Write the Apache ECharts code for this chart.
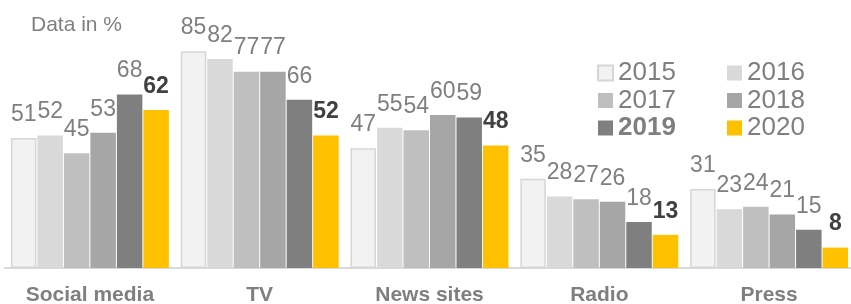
<!DOCTYPE html>
<html><head><meta charset="utf-8">
<script src="https://cdn.jsdelivr.net/npm/echarts@6/dist/echarts.min.js"></script>
<style>html,body{margin:0;padding:0;background:#fff}#c{width:851px;height:304px}</style>
</head><body><div id="c"></div>
<script>
const categories = ['Social media', 'TV', 'News sites', 'Radio', 'Press'];
const years = ['2015', '2016', '2017', '2018', '2019', '2020'];
const v2015 = [51, 85, 47, 35, 31];
const v2016 = [52, 82, 55, 28, 23];
const v2017 = [45, 77, 54, 27, 24];
const v2018 = [53, 77, 60, 26, 21];
const v2019 = [68, 66, 59, 18, 15];
const v2020 = [62, 52, 48, 13, 8];
const values = [v2015, v2016, v2017, v2018, v2019, v2020];
const colors = ['#f2f2f2', '#d9d9d9', '#bfbfbf', '#a6a6a6', '#7f7f7f', '#ffc000'];

const font = 'Liberation Sans, Arial, sans-serif';
const series = years.map((y, i) => ({
  name: y,
  type: 'bar',
  data: values[i],
  barGap: '4%',
  barCategoryGap: '7%',
  itemStyle: i === 0 ? { color: colors[i], borderColor: '#d6d6d6', borderWidth: 1.5 } : { color: colors[i] },
  label: {
    show: true, position: 'top', distance: 12,
    fontFamily: font, fontSize: 23,
    color: i === 5 ? '#404040' : '#7f7f7f',
    fontWeight: i === 5 ? 'bold' : 'normal'
  }
}));

const chart = echarts.init(document.getElementById('c'), null, { renderer: 'canvas' });
const legendCommon = {
  orient: 'vertical', icon: 'rect', itemWidth: 15, itemHeight: 15, itemGap: 1.5,
  textStyle: { fontFamily: font, fontSize: 26, color: '#7f7f7f', lineHeight: 26,
    rich: { b: { fontFamily: font, fontSize: 26, color: '#7f7f7f', fontWeight: 'bold', lineHeight: 26 } } },
  formatter: n => n === '2019' ? '{b|' + n + '}' : n,
  selectedMode: false
};
chart.setOption({
  animation: false,
  title: { text: 'Data in %', left: 26, top: 10, textStyle: { fontFamily: font, fontSize: 21, fontWeight: 'normal', color: '#7f7f7f' } },
  legend: [
    Object.assign({ data: ['2015', '2017', '2019'], left: 592, top: 55 }, legendCommon),
    Object.assign({ data: ['2016', '2018', '2020'], left: 722, top: 55 }, legendCommon)
  ],
  grid: { left: 5, right: -3, top: 13, bottom: 36, containLabel: false, outerBoundsMode: 'none' },
  xAxis: {
    type: 'category', data: categories,
    axisLine: { lineStyle: { color: '#d9d9d9', width: 2 } },
    axisTick: { show: false },
    axisLabel: { fontFamily: font, fontSize: 21, fontWeight: 'bold', color: '#7f7f7f', margin: 17 }
  },
  yAxis: { type: 'value', min: 0, max: 100, show: false, splitLine: { show: false } },
  series: series
});
</script></body></html>
